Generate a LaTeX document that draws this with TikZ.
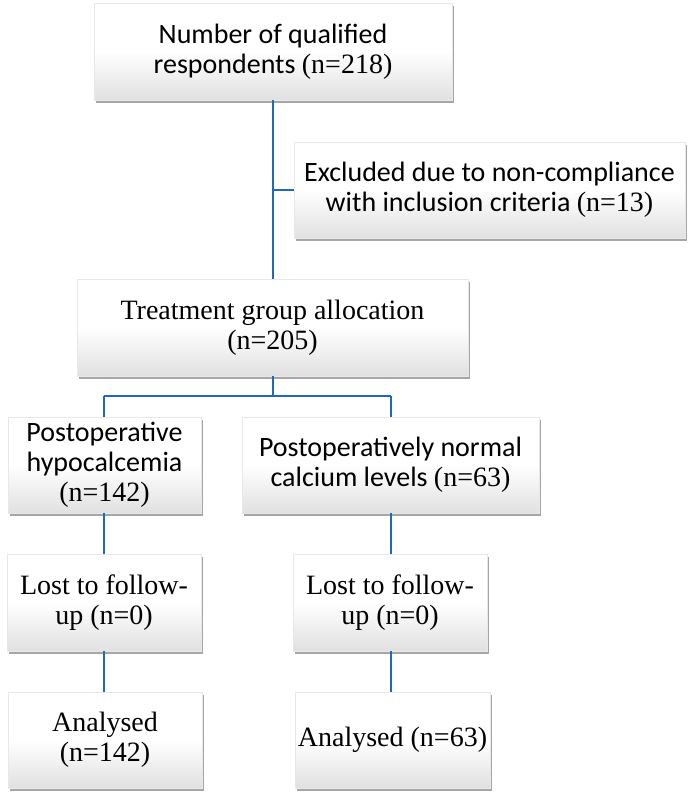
\documentclass[tikz,border=0pt]{standalone}
\usepackage{fontspec}
\setmainfont{Liberation Serif}
\newfontfamily\calfont{Carlito}
\usetikzlibrary{shadows}
\definecolor{linkblue}{RGB}{30,105,185}
\newcommand\nval[1]{{\rmfamily(n=#1)}}
\begin{document}
\begin{tikzpicture}[x=1pt,y=-1pt,
  box/.style={rectangle, inner sep=0pt, align=center,
    draw=black!9, line width=0.5pt,
    top color=white, bottom color=black!12, middle color=white,
    drop shadow={shadow xshift=2pt, shadow yshift=-3pt, fill=black, opacity=0.35},
    font=\fontsize{28}{30}\selectfont},
  link/.style={draw=linkblue, line width=1.8pt}]
\path[use as bounding box] (0,0) rectangle (696,800);
\fill[white] (0,0) rectangle (696,800);

\node[box, minimum width=358pt, minimum height=97pt] (b1) at (273,51.5)
  {\calfont Number of qualified\\\calfont respondents \nval{218}};
\node[box, minimum width=391pt, minimum height=96pt] (ex) at (489.5,190)
  {\calfont Excluded due to non-compliance\\\calfont with inclusion criteria \nval{13}};
\node[box, minimum width=391pt, minimum height=97pt] (tr) at (272.5,327.5)
  {Treatment group allocation\\(n=205)};
\node[box, minimum width=193pt, minimum height=96pt] (hy) at (104.5,465)
  {\calfont Postoperative\\\calfont hypocalcemia\\(n=142)};
\node[box, minimum width=297pt, minimum height=96pt] (no) at (390.5,465)
  {\calfont Postoperatively normal\\\calfont calcium levels \nval{63}};
\node[box, minimum width=194pt, minimum height=97pt] (ll) at (104,602.5)
  {Lost to follow-\\up (n=0)};
\node[box, minimum width=194pt, minimum height=97pt] (lr) at (390,602.5)
  {Lost to follow-\\up (n=0)};
\node[box, minimum width=194pt, minimum height=96pt] (al) at (105,740)
  {Analysed\\(n=142)};
\node[box, minimum width=195pt, minimum height=96pt] (ar) at (392.5,740)
  {Analysed (n=63)};

\coordinate (j1) at (273,190);
\coordinate (j2) at (273,396);
\coordinate (jl) at (104,396);
\coordinate (jr) at (391,396);

\draw[link] (b1.south -| j1) -- (tr.north -| j1);
\draw[link] (j1) -- (ex.west |- j1);
\draw[link] (tr.south -| j2) -- (j2);
\draw[link] (jl) -- (jr);
\draw[link] (jl) -- (hy.north -| jl);
\draw[link] (jr) -- (no.north -| jr);
\draw[link] (hy.south -| jl) -- (ll.north -| jl);
\draw[link] (ll.south -| jl) -- (al.north -| jl);
\draw[link] (no.south -| jr) -- (lr.north -| jr);
\draw[link] (lr.south -| jr) -- (ar.north -| jr);
\end{tikzpicture}
\end{document}
